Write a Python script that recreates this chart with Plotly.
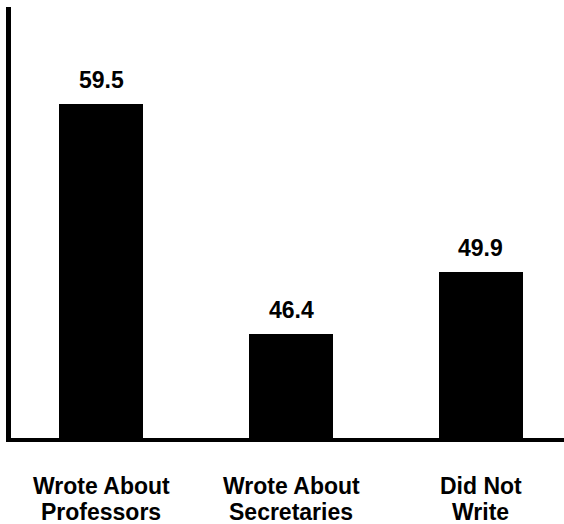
import plotly.graph_objects as go

label_line1 = ["Wrote About", "Wrote About", "Did Not"]
label_line2 = ["Professors", "Secretaries", "Write"]
values = [59.5, 46.4, 49.9]
value_labels = ["59.5", "46.4", "49.9"]

positions = list(range(len(values)))
font_family = "Liberation Sans, Arial, sans-serif"

fig = go.Figure(
    go.Bar(
        x=positions,
        y=values,
        width=0.44,
        marker=dict(color="black", line=dict(width=0)),
        hoverinfo="skip",
    )
)

# value labels above each bar
for xpos, v, lab in zip(positions, values, value_labels):
    fig.add_annotation(
        x=xpos, y=v, text=f"<b>{lab}</b>", showarrow=False,
        yanchor="bottom", yshift=9,
        font=dict(family=font_family, size=23, color="black"),
    )

# two-line category labels under the baseline
for xpos, l1, l2 in zip(positions, label_line1, label_line2):
    for txt, shift in ((l1, -48), (l2, -74)):
        fig.add_annotation(
            x=xpos, xref="x", y=0, yref="paper", text=f"<b>{txt}</b>",
            showarrow=False, yanchor="middle", yshift=shift,
            font=dict(family=font_family, size=23, color="black"),
        )

fig.update_layout(
    width=564, height=524,
    margin=dict(l=11, r=0, t=7, b=86),
    plot_bgcolor="white", paper_bgcolor="white",
    showlegend=False,
    bargap=0,
    xaxis=dict(
        tickmode="array", tickvals=positions, showticklabels=False,
        range=[-0.474, 2.437],
        showline=True, linecolor="black", linewidth=4,
        showgrid=False, zeroline=False, ticks="",
    ),
    yaxis=dict(
        range=[40.45, 65.0],
        showline=True, linecolor="black", linewidth=5,
        showgrid=False, zeroline=False, ticks="", showticklabels=False,
    ),
)

fig.write_html("out.html")
